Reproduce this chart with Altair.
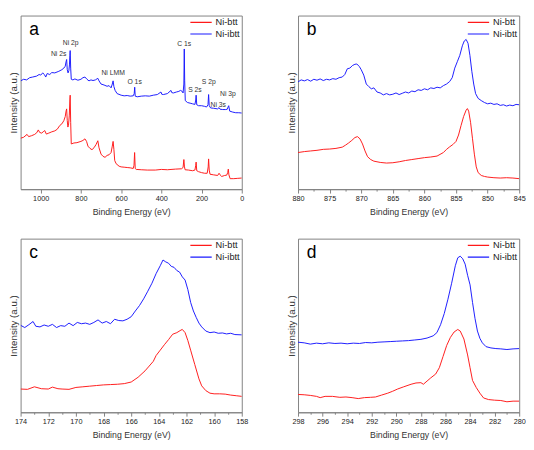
import altair as alt
import pandas as pd

SERIES = ["Ni-btt", "Ni-ibtt"]
COLORS = ["#ff1a1a", "#1a1aff"]
FONT = "Liberation Sans"

# ---------------- panel a : survey ----------------
A_E_BLUE = [1100, 1085, 1070, 1055, 1040, 1020, 1008, 1000, 990, 982,
            975, 968, 955, 945, 930, 910, 895, 885, 878, 874,
            871, 868, 864, 860, 857, 855, 853.5, 851, 848, 840,
            830, 815, 800, 790, 780, 770, 760, 750, 740, 728,
            716, 710, 700, 685, 670, 660, 650, 644, 640, 636,
            630, 620, 600, 585, 570, 555, 540, 535, 532.5, 530,
            520, 500, 480, 460, 440, 420, 402, 398, 390, 370,
            352, 348, 340, 325, 313, 305, 298, 292, 288, 286,
            284, 281, 270, 257, 245, 233, 229, 227, 224, 215,
            200, 185, 175, 168, 165, 162, 155, 140, 120, 113,
            108, 95, 80, 72, 68, 65, 60, 45, 30, 15,
            0]
A_I_BLUE = [340, 345, 343, 350, 352, 355, 360, 358, 365, 360,
            352, 363, 360, 366, 365, 370, 375, 380, 386, 400,
            407, 375, 365, 372, 390, 420, 435, 380, 345, 343,
            346, 342, 345, 350, 352, 345, 340, 343, 341, 343,
            348, 340, 330, 327, 323, 325, 318, 330, 340, 322,
            310, 300, 295, 293, 294, 292, 293, 300, 320, 292,
            290, 292, 293, 292, 295, 297, 305, 298, 297, 300,
            310, 303, 302, 305, 307, 310, 308, 302, 330, 440,
            340, 278, 272, 270, 268, 266, 280, 295, 265, 262,
            262, 260, 258, 265, 297, 262, 255, 254, 252, 256,
            251, 250, 250, 251, 258, 262, 245, 242, 240, 240,
            239]
A_E_RED = [1100, 1085, 1068, 1060, 1045, 1030, 1020, 1012, 1005, 995,
           988, 980, 972, 960, 945, 930, 918, 905, 895, 885,
           878, 874, 871, 868, 865, 862, 858, 855, 853.5, 851,
           848, 835, 820, 800, 790, 780, 772, 765, 755, 745,
           735, 725, 716, 710, 700, 690, 680, 670, 660, 650,
           644, 640, 636, 632, 625, 610, 600, 585, 570, 555,
           540, 536, 533, 530, 525, 500, 470, 430, 400, 370,
           330, 300, 292, 288, 285, 282, 265, 245, 233, 229,
           227, 224, 215, 200, 185, 172, 167, 165, 162, 158,
           140, 120, 113, 108, 100, 85, 75, 70, 67, 64,
           58, 40, 20, 0]
A_I_RED = [160, 163, 172, 165, 168, 172, 177, 186, 178, 176,
           180, 184, 173, 176, 180, 183, 188, 200, 205, 215,
           228, 245, 252, 215, 195, 200, 230, 280, 295, 210,
           142, 145, 146, 150, 153, 158, 150, 135, 128, 124,
           130, 140, 152, 130, 110, 103, 100, 106, 108, 115,
           135, 150, 125, 90, 80, 72, 70, 69, 68, 67,
           65, 75, 115, 65, 62, 61, 60, 60, 62, 61,
           63, 64, 68, 93, 70, 61, 60, 58, 60, 75,
           85, 58, 55, 52, 50, 50, 70, 95, 60, 47,
           45, 43, 50, 45, 40, 43, 44, 52, 63, 45,
           33, 33, 34, 35]
A_PEAK_LABELS = ["Ni 2s", "Ni 2p", "Ni LMM", "O 1s", "C 1s", "S 2s", "S 2p", "Ni 3s", "Ni 3p"]
A_PEAK_E = [911, 851, 640, 533, 286, 233, 164, 117, 69]
A_PEAK_I = [425, 460, 365, 337, 457, 310, 335, 265, 297]

# ---------------- panel b : Ni 2p ----------------
B_E_BLUE = [880, 879.5, 879, 878.5, 878, 877.5, 877, 876.5, 876, 875.5,
            875, 874.5, 874, 873.5, 873, 872.6, 872.2, 871.8, 871.4, 871,
            870.7, 870.3, 870, 869.6, 869.2, 868.8, 868.4, 868, 867.5, 867,
            866.5, 866, 865.5, 865, 864.5, 864, 863.5, 863, 862.5, 862,
            861.5, 861, 860.5, 860, 859.5, 859, 858.5, 858, 857.5, 857,
            856.5, 856, 855.6, 855.2, 854.8, 854.4, 854, 853.7, 853.4, 853.1,
            852.8, 852.5, 852.2, 851.9, 851.5, 851, 850.5, 850, 849.5, 849,
            848.5, 848, 847.5, 847, 846.5, 846, 845.5, 845]
B_I_BLUE = [337, 343, 340, 344, 339, 345, 342, 346, 341, 345,
            343, 347, 345, 350, 352, 360, 378, 380, 388, 392,
            393, 385, 375, 358, 330, 322, 315, 318, 305, 302,
            296, 300, 296, 298, 302, 297, 301, 305, 302, 308,
            306, 312, 310, 315, 312, 318, 316, 320, 318, 325,
            330, 338, 350, 380, 400, 420, 450, 465, 470, 458,
            420, 370, 330, 300, 285, 278, 272, 268, 270, 266,
            268, 263, 265, 261, 264, 262, 266, 265]
B_E_RED = [880, 879, 878, 877, 876, 875, 874, 873, 872.5, 872,
           871.5, 871, 870.6, 870.2, 869.8, 869.4, 869, 868.5, 868, 867,
           866, 865, 864, 863, 862, 861, 860, 859, 858, 857,
           856.5, 856, 855.5, 855, 854.6, 854.2, 853.8, 853.4, 853.2, 853,
           852.7, 852.4, 852.1, 851.8, 851.5, 851, 850.5, 850, 849, 848,
           847, 846, 845]
B_I_RED = [115, 118, 120, 122, 125, 126, 128, 132, 138, 145,
           153, 162, 165, 158, 142, 120, 102, 93, 88, 84,
           82, 83, 86, 90, 93, 96, 99, 101, 104, 115,
           125, 133, 140, 150, 170, 200, 228, 248, 253, 245,
           210, 160, 110, 70, 52, 43, 40, 38, 36, 35,
           36, 35, 33]

# ---------------- panel c : S 2p ----------------
C_E_BLUE = [174, 173.7, 173.4, 173.1, 172.9, 172.6, 172.3, 172, 171.7, 171.4,
            171.1, 170.8, 170.5, 170.2, 169.9, 169.6, 169.3, 169, 168.7, 168.4,
            168.1, 167.8, 167.5, 167.2, 166.9, 166.6, 166.3, 166, 165.7, 165.4,
            165.1, 164.8, 164.5, 164.2, 163.9, 163.7, 163.5, 163.3, 163.1, 162.9,
            162.7, 162.5, 162.3, 162.1, 161.9, 161.7, 161.5, 161.3, 161.1, 160.9,
            160.6, 160.3, 160, 159.7, 159.4, 159.1, 158.8, 158.5, 158]
C_I_BLUE = [273, 266, 275, 285, 270, 268, 274, 270, 276, 266,
            272, 270, 280, 272, 282, 278, 280, 276, 282, 290,
            280, 285, 278, 292, 288, 287, 292, 300, 318, 335,
            356, 380, 405, 435, 460, 478, 472, 468, 458, 455,
            445, 440, 425, 415, 385, 345, 318, 298, 280, 268,
            255, 250, 252, 248, 249, 246, 248, 244, 243]
C_E_RED = [174, 173.5, 173, 172.5, 172, 171.7, 171.3, 171, 170.5, 170,
           169.5, 169, 168.5, 168, 167.5, 167, 166.5, 166, 165.5, 165,
           164.7, 164.4, 164.2, 163.9, 163.6, 163.3, 163, 162.7, 162.4, 162.3,
           162.1, 161.9, 161.7, 161.4, 161.1, 160.9, 160.6, 160.3, 160, 159.6,
           159.2, 158.8, 158.4, 158]
C_I_RED = [73, 72, 80, 74, 73, 79, 74, 73, 72, 78,
           80, 82, 84, 86, 87, 88, 90, 95, 110, 130,
           145, 160, 178, 195, 212, 228, 245, 250, 258, 260,
           250, 225, 195, 150, 105, 83, 68, 60, 58, 58,
           57, 54, 52, 50]

# ---------------- panel d : C 1s ----------------
D_E_BLUE = [298, 297.5, 297, 296.5, 296, 295.5, 295, 294.5, 294, 293.5,
            293, 292.5, 292, 291.5, 291, 290.5, 290, 289.5, 289, 288.5,
            288, 287.5, 287, 286.7, 286.4, 286.1, 285.8, 285.5, 285.2, 285,
            284.8, 284.6, 284.4, 284.2, 284, 283.8, 283.6, 283.4, 283.2, 283,
            282.7, 282.3, 281.9, 281.5, 281, 280.5, 280]
D_I_BLUE = [220, 218, 214, 217, 215, 218, 216, 217, 215, 217,
            216, 219, 218, 220, 221, 222, 223, 224, 225, 227,
            229, 233, 240, 250, 275, 310, 355, 405, 460, 485,
            490, 482, 465, 430, 400, 345, 295, 255, 232, 218,
            206, 202, 200, 199, 197, 199, 200]
D_E_RED = [298, 297.5, 297, 296.5, 296.2, 295.8, 295.2, 294.6, 294.1, 293.6,
           293.1, 292.6, 292.1, 291.7, 291.2, 290.7, 290.3, 289.9, 289.4, 288.8,
           288.4, 288, 287.8, 287.5, 287.2, 286.8, 286.5, 286.2, 285.9, 285.6,
           285.3, 285, 284.8, 284.5, 284.2, 284, 283.8, 283.5, 283.2, 282.9,
           282.5, 282, 281.5, 281, 280.5, 280]
D_I_RED = [56, 55, 53, 50, 46, 50, 50, 47, 48, 46,
           43, 46, 47, 48, 54, 60, 66, 73, 80, 88,
           92, 93, 88, 98, 108, 120, 140, 175, 210, 235,
           252, 260, 255, 230, 180, 140, 100, 78, 60, 45,
           40, 38, 37, 33, 35, 35]

A_TICKS = list(range(0, 1101, 100))
B_TICKS = [845 + 2.5 * k for k in range(15)]
C_TICKS = list(range(158, 175))
D_TICKS = list(range(280, 299))

W, H = 228, 179
Y_MAX = 545


def panel(letter, e_red, i_red, e_blue, i_blue, domain, ticks, major, peaks=None):
    assert len(e_red) == len(i_red) and len(e_blue) == len(i_blue)
    df = pd.concat([
        pd.DataFrame({"energy": e_red, "intensity": i_red, "sample": SERIES[0]}),
        pd.DataFrame({"energy": e_blue, "intensity": i_blue, "sample": SERIES[1]}),
    ])
    test = f"datum.value % {major} === 0"
    x = alt.X("energy:Q",
              scale=alt.Scale(domain=domain, reverse=True, nice=False, zero=False),
              axis=alt.Axis(title="Binding Energy (eV)", values=ticks, format="d",
                            labelExpr=f"{test} ? datum.label : ''",
                            tickSize={"condition": {"test": test, "value": 4}, "value": 2},
                            labelFlush=False, labelOverlap=False,
                            labelFontSize=7.5, labelPadding=2,
                            titleFontSize=9, titlePadding=6, grid=False))
    y = alt.Y("intensity:Q",
              scale=alt.Scale(domain=[0, Y_MAX], nice=False, zero=False),
              axis=alt.Axis(title="Intensity (a.u.)", labels=False, ticks=False,
                            domain=False, grid=False, titleFontSize=10,
                            titlePadding=2))
    lines = alt.Chart(df).mark_line(strokeWidth=1, clip=True).encode(
        x=x, y=y,
        color=alt.Color("sample:N",
                        scale=alt.Scale(domain=SERIES, range=COLORS),
                        legend=alt.Legend(title=None, orient="top-right", offset=2,
                                          symbolType="stroke", symbolSize=484,
                                          symbolStrokeWidth=1.2, clipHeight=10,
                                          rowPadding=2, labelFontSize=9.5,
                                          labelFont=FONT, labelColor="#222",
                                          labelOffset=3, padding=0)),
    )
    layers = [lines]
    if peaks is not None:
        pdf = pd.DataFrame({"label": peaks[0], "energy": peaks[1], "intensity": peaks[2]})
        layers.append(alt.Chart(pdf).mark_text(fontSize=7, font=FONT, color="#333").encode(
            x="energy:Q", y="intensity:Q", text="label:N"))
    tag = alt.Chart(pd.DataFrame({"tag": [letter]})).mark_text(
        align="left", baseline="alphabetic", fontSize=18, font=FONT, color="#000"
    ).encode(x=alt.value(9), y=alt.value(20), text="tag:N")
    layers.append(tag)
    return alt.layer(*layers).properties(width=W, height=H)


pa = panel("a", A_E_RED, A_I_RED, A_E_BLUE, A_I_BLUE, [0, 1100], A_TICKS, 200,
           peaks=(A_PEAK_LABELS, A_PEAK_E, A_PEAK_I))
pb = panel("b", B_E_RED, B_I_RED, B_E_BLUE, B_I_BLUE, [845, 880], B_TICKS, 5)
pc = panel("c", C_E_RED, C_I_RED, C_E_BLUE, C_I_BLUE, [158, 174], C_TICKS, 2)
pd_ = panel("d", D_E_RED, D_I_RED, D_E_BLUE, D_I_BLUE, [280, 298], D_TICKS, 2)

chart = alt.concat(pa, pb, pc, pd_, columns=2,
                   spacing={"row": 21, "column": 38}).resolve_scale(
    color="independent").properties(
    padding={"left": 0, "top": 0, "right": 0, "bottom": 0}
).configure(font=FONT).configure_view(
    stroke="#808080", strokeWidth=1
).configure_axis(
    domainColor="#808080", tickColor="#808080", labelColor="#222",
    titleColor="#333", labelFont=FONT, titleFont=FONT, titleFontWeight="normal"
)

chart.save("out.html", embed_options={"renderer": "svg", "actions": False})
